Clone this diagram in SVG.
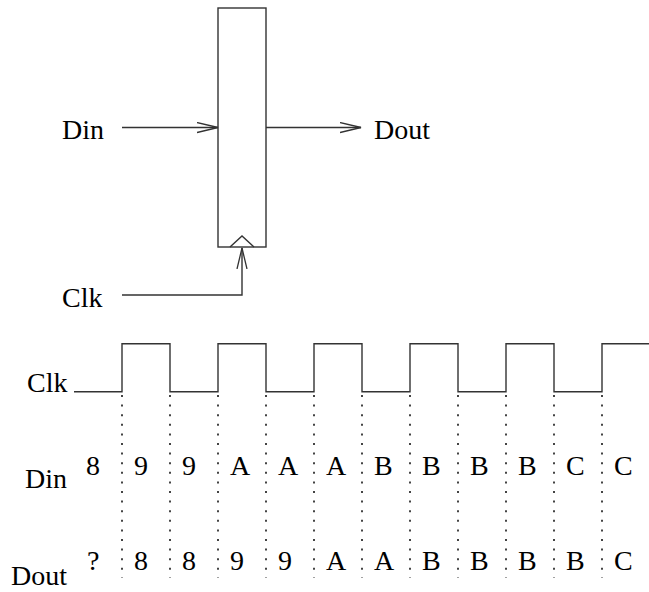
<svg xmlns="http://www.w3.org/2000/svg" width="649" height="592" viewBox="0 0 649 592">
<style>
text{font-family:"Liberation Serif","Times New Roman",Times,"DejaVu Serif",serif;font-size:28px;fill:#000}
.ln{fill:none;stroke:#333;stroke-width:1.4}
.dot{fill:none;stroke:#444;stroke-width:2;stroke-dasharray:2 7.6}
</style>
<defs>
<marker id="ah" viewBox="0 0 22 12" refX="21" refY="6" markerWidth="22" markerHeight="12" markerUnits="userSpaceOnUse" orient="auto">
<path d="M0,1 L21,6 L0,11" fill="none" stroke="#333" stroke-width="1.3"/>
</marker>
</defs>
<g id="register">
<rect class="ln" x="218" y="8" width="48" height="239"/>
<path class="ln" d="M230,247 L242,236 L254,247"/>
</g>
<g id="labels-top">
<text x="62" y="139" font-family="Liberation Serif, serif">Din</text>
<text x="374" y="139" font-family="Liberation Serif, serif">Dout</text>
<text x="62" y="307" font-family="Liberation Serif, serif">Clk</text>
</g>
<g id="connectors">
<path class="ln" d="M122,127.5 H218" marker-end="url(#ah)"/>
<path class="ln" d="M266,127.5 H361" marker-end="url(#ah)"/>
<path class="ln" d="M122,295 H242 V248" marker-end="url(#ah)"/>
</g>
<g id="timing">
<text x="27" y="392">Clk</text>
<path class="ln" d="M74,391.7 H122 V343.7 H170 V391.7 H218 V343.7 H266 V391.7 H314 V343.7 H362 V391.7 H410 V343.7 H458 V391.7 H506 V343.7 H554 V391.7 H602 V343.7 H649"/>
<g id="gridlines">
<path class="dot" d="M122,395 V578 M170,395 V578 M218,395 V578 M266,395 V578 M314,395 V578 M362,395 V578 M410,395 V578 M458,395 V578 M506,395 V578 M554,395 V578 M602,395 V578"/>
</g>
<text x="25" y="488">Din</text>
<g id="din-values">
<text x="86" y="475">8</text>
<text x="134" y="475">9</text>
<text x="182" y="475">9</text>
<text x="230" y="475">A</text>
<text x="278" y="475">A</text>
<text x="326" y="475">A</text>
<text x="374" y="475">B</text>
<text x="422" y="475">B</text>
<text x="470" y="475">B</text>
<text x="518" y="475">B</text>
<text x="566" y="475">C</text>
<text x="614" y="475">C</text>
</g>
<text x="11" y="585">Dout</text>
<g id="dout-values">
<text x="87" y="570">?</text>
<text x="134" y="570">8</text>
<text x="182" y="570">8</text>
<text x="230" y="570">9</text>
<text x="278" y="570">9</text>
<text x="326" y="570">A</text>
<text x="374" y="570">A</text>
<text x="422" y="570">B</text>
<text x="470" y="570">B</text>
<text x="518" y="570">B</text>
<text x="566" y="570">B</text>
<text x="614" y="570">C</text>
</g>
</g>
</svg>
